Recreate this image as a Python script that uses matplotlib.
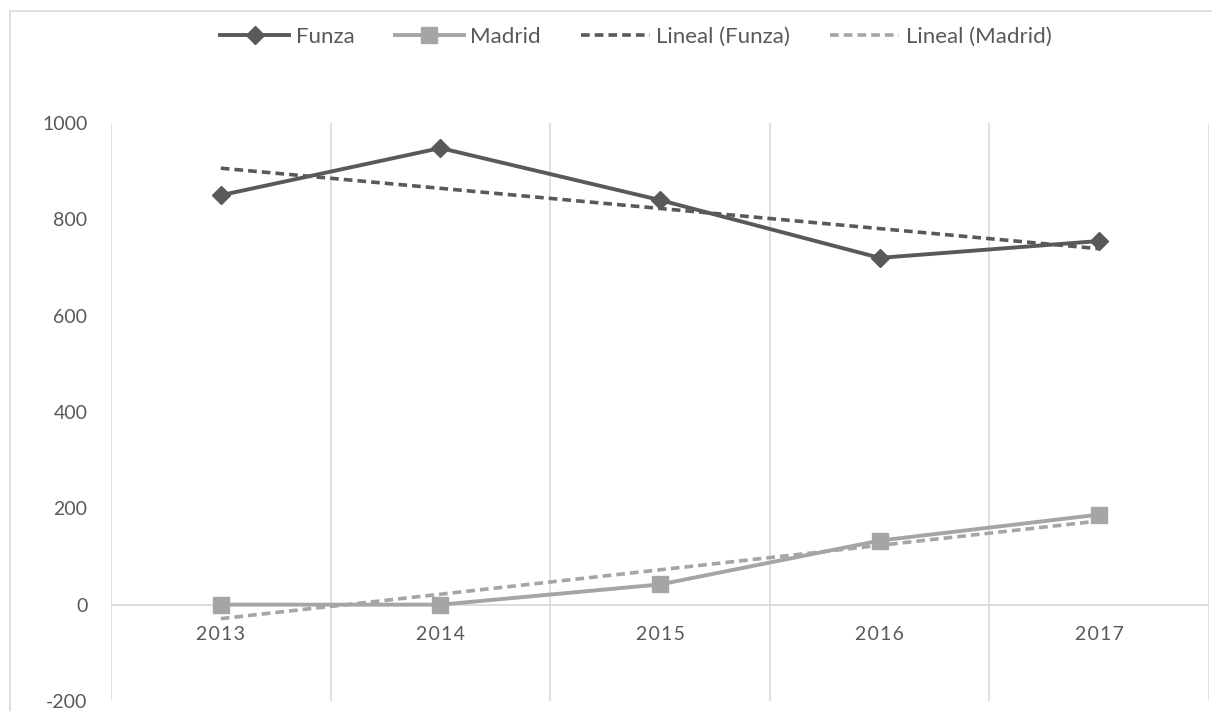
import numpy as np
import matplotlib.pyplot as plt
from matplotlib.lines import Line2D

years = ['2013', '2014', '2015', '2016', '2017']
funza = [850, 948, 840, 720, 755]
madrid = [0, 0, 42, 133, 187]
y_ticks = [-200, 0, 200, 400, 600, 800, 1000]

dark = '#595959'
light = '#A5A5A5'
grid = '#D9D9D9'

plt.rcParams['font.family'] = ['Lato', 'DejaVu Sans']
plt.rcParams['axes.unicode_minus'] = False

fig = plt.figure(figsize=(12.12, 7.11), dpi=100)
ax = fig.add_axes([111/1212, 10/711, 1098/1212, 578/711])

x = np.arange(len(years))

# trend lines (linear fit, like Excel's "Lineal")
fz = np.polyval(np.polyfit(x + 1, funza, 1), x + 1)
md = np.polyval(np.polyfit(x + 1, madrid, 1), x + 1)

ax.plot(x, funza, color=dark, lw=2.8, marker='D', ms=9, label='Funza', zorder=3)
ax.plot(x, madrid, color=light, lw=2.8, marker='s', ms=12, label='Madrid', zorder=3)
ax.plot(x, fz, color=dark, lw=2.6, ls=(0, (2.4, 1.4)), label='Lineal (Funza)', zorder=4)
ax.plot(x, md, color=light, lw=2.6, ls=(0, (2.4, 1.4)), label='Lineal (Madrid)', zorder=4)

ax.set_xlim(-0.5, len(years) - 0.5)
ax.set_ylim(-200, 1000)
for b in np.arange(-0.5, len(years), 1):
    ax.axvline(b, color=grid, lw=1.1, zorder=1)
ax.axhline(0, color=grid, lw=1.3, zorder=1)

ax.set_xticks([])
ax.set_yticks(y_ticks)
ax.tick_params(axis='y', length=0, pad=17, labelsize=14, labelcolor=dark)
for s in ax.spines.values():
    s.set_visible(False)

for i, yr in enumerate(years):
    ax.annotate('\u200a'.join(yr), (i, 0), xytext=(0, -15), textcoords='offset points',
                ha='center', va='top', fontsize=14, color=dark)

leg = fig.legend(loc='center', bbox_to_anchor=(636/1212, 1 - 37/711), ncol=4,
                 frameon=False, fontsize=16, handlelength=3.1, handletextpad=0.3,
                 columnspacing=1.8, labelcolor=dark)

# chart border (top and left visible)
fig.add_artist(Line2D([10/1212, 1], [1 - 11/711, 1 - 11/711], color=grid, lw=1.2))
fig.add_artist(Line2D([10/1212, 10/1212], [0, 1 - 11/711], color=grid, lw=1.2))

fig.savefig('out.png', dpi=100)
